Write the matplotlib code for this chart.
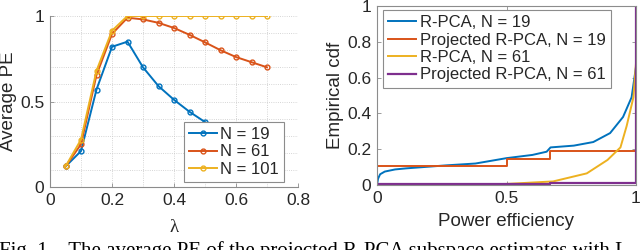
import matplotlib
matplotlib.use("Agg")
import matplotlib.pyplot as plt
from matplotlib.ticker import MultipleLocator

plt.rcParams['font.family'] = ['Liberation Sans', 'DejaVu Sans']

# ---- left panel data ----
lam = [0.05, 0.10, 0.15, 0.20, 0.25, 0.30, 0.35, 0.40, 0.45, 0.50, 0.55, 0.60, 0.65, 0.70]
pe_n19 = [0.12, 0.21, 0.57, 0.82, 0.85, 0.70, 0.59, 0.51, 0.44, 0.38, 0.33, 0.29, 0.26, 0.23]
pe_n61 = [0.12, 0.25, 0.655, 0.895, 0.99, 0.98, 0.96, 0.93, 0.89, 0.846, 0.80, 0.76, 0.73, 0.70]
pe_n101 = [0.12, 0.277, 0.68, 0.914, 1.0, 1.0, 1.0, 1.0, 1.0, 1.0, 1.0, 1.0, 1.0, 1.0]
left_labels = ["N = 19", "N = 61", "N = 101"]

# ---- right panel data ----
rpca19_x = [0.0, 0.004, 0.012, 0.03, 0.07, 0.113, 0.27, 0.38, 0.5, 0.6, 0.655, 0.67, 0.76, 0.835, 0.9, 0.95, 0.983, 0.996, 1.0, 1.0]
rpca19_y = [0.0, 0.035, 0.06, 0.075, 0.087, 0.093, 0.11, 0.12, 0.15, 0.168, 0.186, 0.21, 0.22, 0.24, 0.29, 0.38, 0.49, 0.62, 0.66, 1.0]
proj19_x = [0.0, 0.0, 0.5, 0.5, 0.667, 0.667, 1.0, 1.0]
proj19_y = [0.0, 0.108, 0.108, 0.143, 0.143, 0.19, 0.19, 1.0]
rpca61_x = [0.0, 0.3, 0.5, 0.68, 0.81, 0.89, 0.94, 0.964, 0.99, 1.0, 1.0]
rpca61_y = [0.0, 0.002, 0.006, 0.02, 0.065, 0.14, 0.21, 0.33, 0.49, 0.68, 1.0]
proj61_x = [0.0, 0.667, 0.667, 1.0, 1.0]
proj61_y = [0.003, 0.003, 0.012, 0.012, 1.0]
right_labels = ["R-PCA, N = 19", "Projected R-PCA, N = 19", "R-PCA, N = 61", "Projected R-PCA, N = 61"]

c_blue, c_orange, c_yellow, c_purple = "#0072BD", "#D95319", "#EDB120", "#7E2F8E"
axis_col = "#262626"
edge_col = "#8c8c8c"
tick_fs = 12.5
label_fs = 13.5
leg_fs = 12

fig = plt.figure(figsize=(6.4, 2.5), dpi=100)

# ---------- left ----------
ax1 = fig.add_axes([50/640, 63/250, 248/640, 171/250])
for y, c, lab in zip([pe_n19, pe_n61, pe_n101], [c_blue, c_orange, c_yellow], left_labels):
    ax1.plot(lam, y, color=c, lw=1.4, marker='o', ms=3.5, mfc='none', mew=1.0, label=lab)
ax1.set_xlim(0, 0.8)
ax1.set_ylim(0, 1)
ax1.set_xticks([0, 0.2, 0.4, 0.6, 0.8])
ax1.set_xticklabels(["0", "0.2", "0.4", "0.6", "0.8"])
ax1.set_yticks([0, 0.5, 1])
ax1.set_yticklabels(["0", "0.5", "1"])
ax1.xaxis.set_minor_locator(MultipleLocator(0.1))
ax1.yaxis.set_minor_locator(MultipleLocator(0.1))
ax1.grid(True, which='both', ls=':', lw=0.6, color='#c8c8c8')
ax1.set_axisbelow(True)
for s in ['top', 'right']:
    ax1.spines[s].set_visible(False)
for s in ['left', 'bottom']:
    ax1.spines[s].set_color(edge_col)
    ax1.spines[s].set_linewidth(0.8)
ax1.tick_params(which='major', direction='in', length=3, width=0.6, color=edge_col,
                labelsize=tick_fs, labelcolor=axis_col, pad=4)
ax1.tick_params(which='minor', length=0)
ax1.set_ylabel("Average PE", fontsize=label_fs, color=axis_col, va='center')
ax1.yaxis.set_label_coords(-41/248, 0.5)
ax1.set_xlabel("λ", fontsize=label_fs, color=axis_col, family=['Liberation Serif', 'DejaVu Serif'], va='center')
ax1.xaxis.set_label_coords(0.5, -41/171)
leg1 = ax1.legend(loc='lower right', bbox_to_anchor=(234/248, 5/171), bbox_transform=ax1.transAxes,
                  fontsize=leg_fs, frameon=True, fancybox=False, edgecolor=edge_col, framealpha=1,
                  handlelength=1.7, handletextpad=0.2, borderpad=0.3, labelspacing=0.15,
                  borderaxespad=0.0)
leg1.get_frame().set_linewidth(0.8)
for t in leg1.get_texts():
    t.set_color(axis_col)

# ---------- right ----------
ax2 = fig.add_axes([377/640, 65/250, 259/640, 179/250])
ax2.plot(rpca19_x, rpca19_y, color=c_blue, lw=1.4, label=right_labels[0])
ax2.plot(proj19_x, proj19_y, color=c_orange, lw=1.4, label=right_labels[1])
ax2.plot(rpca61_x, rpca61_y, color=c_yellow, lw=1.4, label=right_labels[2])
ax2.plot(proj61_x, proj61_y, color=c_purple, lw=1.6, label=right_labels[3])
ax2.set_xlim(0, 1)
ax2.set_ylim(0, 1)
ax2.set_xticks([0, 0.5, 1])
ax2.set_xticklabels(["0", "0.5", "1"])
ax2.set_yticks([0, 0.2, 0.4, 0.6, 0.8, 1])
ax2.set_yticklabels(["0", "0.2", "0.4", "0.6", "0.8", "1"])
for s in ax2.spines.values():
    s.set_color(edge_col)
    s.set_linewidth(0.8)
ax2.tick_params(direction='in', length=3, width=0.6, color=edge_col,
                labelsize=tick_fs, labelcolor=axis_col, pad=4, top=True, right=True)
ax2.set_ylabel("Empirical cdf", fontsize=label_fs, color=axis_col, va='center')
ax2.yaxis.set_label_coords(-41/259, 0.5)
ax2.set_xlabel("Power efficiency", fontsize=label_fs, color=axis_col, va='center')
ax2.xaxis.set_label_coords(0.5, -37/179)
leg2 = ax2.legend(loc='upper left', bbox_to_anchor=(6/259, 1 - 4/179), bbox_transform=ax2.transAxes,
                  fontsize=leg_fs, frameon=True, fancybox=False,
                  edgecolor=edge_col, framealpha=1, handlelength=1.7, handletextpad=0.2,
                  borderpad=0.3, labelspacing=0.15, borderaxespad=0.0)
leg2.get_frame().set_linewidth(0.8)
for t in leg2.get_texts():
    t.set_color(axis_col)

# caption (cut off at the bottom in the reference)
fig.text(-0.001, 1 - 241/250, "Fig. 1.   The average PE of the projected R-PCA subspace estimates with L",
         family=['Liberation Serif', 'DejaVu Serif'], fontsize=15, va='top', ha='left', color='black')

fig.savefig("out.png", dpi=100)
